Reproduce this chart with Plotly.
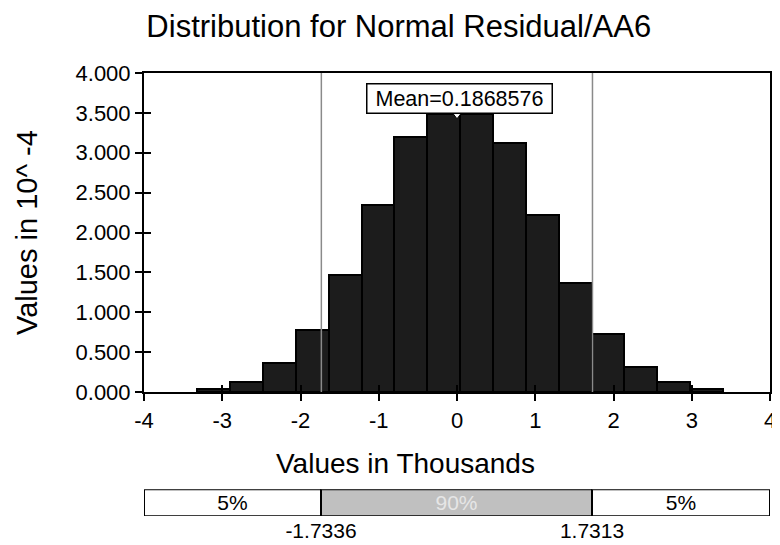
import plotly.graph_objects as go

# ---------------- data ----------------
title_text = "Distribution for Normal Residual/AA6"
x_title = "Values in Thousands"
y_title = "Values in 10^ -4"

bin_centers = [-3.11, -2.69, -2.27, -1.85, -1.43, -1.01, -0.59, -0.17,
               0.25, 0.67, 1.09, 1.51, 1.93, 2.35, 2.77, 3.19]
bin_width = 0.42
bin_values = [0.035, 0.13, 0.36, 0.785, 1.465, 2.345, 3.195, 3.485,
              3.485, 3.12, 2.22, 1.365, 0.735, 0.31, 0.13, 0.035]

x_tickvals = [-4, -3, -2, -1, 0, 1, 2, 3, 4]
x_ticktext = ["-4", "-3", "-2", "-1", "0", "1", "2", "3", "4"]
y_tickvals = [0, 0.5, 1, 1.5, 2, 2.5, 3, 3.5, 4]

mean_value = 0.1868576          # in original units
p_low = -1.7336                 # 5th percentile (thousands)
p_high = 1.7313                 # 95th percentile (thousands)
band_labels = ["5%", "90%", "5%"]
x_min, x_max = -4, 4
y_min, y_max = 0, 4

FONT = "Liberation Sans, Arial, sans-serif"

fig = go.Figure()

# histogram bars
fig.add_trace(go.Bar(
    x=bin_centers, y=bin_values, width=[bin_width] * len(bin_centers),
    marker=dict(color="#1c1c1c", line=dict(color="black", width=2)),
    xaxis="x", yaxis="y", showlegend=False, hoverinfo="skip"))

# percentile lines
for p in (p_low, p_high):
    fig.add_trace(go.Scatter(
        x=[p, p], y=[y_min, y_max], mode="lines",
        line=dict(color="#8a8a8a", width=1.5),
        xaxis="x", yaxis="y", showlegend=False, hoverinfo="skip"))

# top triangles on percentile lines
fig.add_trace(go.Scatter(
    x=[p_low, p_high], y=[y_max + 0.06, y_max + 0.06], mode="markers",
    marker=dict(symbol="triangle-down", size=12, color="#7a7a7a",
                line=dict(color="#333333", width=1)),
    cliponaxis=False, xaxis="x", yaxis="y", showlegend=False, hoverinfo="skip"))

# mean marker
mean_k = mean_value / 1000.0
fig.add_trace(go.Scatter(
    x=[mean_k], y=[3.47], mode="markers",
    marker=dict(symbol="triangle-down", size=7, color="white",
                line=dict(color="black", width=1)),
    cliponaxis=False, xaxis="x", yaxis="y", showlegend=False, hoverinfo="skip"))

# percentile band below the chart
band_bases = [x_min, p_low, p_high]
band_widths = [p_low - x_min, p_high - p_low, x_max - p_high]
fig.add_trace(go.Bar(
    y=[0, 0, 0], x=band_widths, base=band_bases, orientation="h", width=1,
    marker=dict(color=["white", "#c0c0c0", "white"], line=dict(color="black", width=2)),
    text=band_labels, textposition="inside", insidetextanchor="middle",
    constraintext="none",
    textfont=dict(family=FONT, size=21, color=["black", "#e6e6e6", "black"]),
    xaxis="x", yaxis="y3", showlegend=False, hoverinfo="skip"))

# dummy trace for overlay axes (crossing ticks)
fig.add_trace(go.Scatter(x=[], y=[], xaxis="x2", yaxis="y2", showlegend=False))

main_dom = [0.2796, 1.0]
band_dom = [0.0, 0.0604]

annotations = [
    dict(text=f"Mean={mean_value}", x=mean_k, y=3.49, xref="x", yref="y",
         xanchor="center", yanchor="bottom", xshift=2.5, showarrow=False,
         font=dict(family=FONT, size=21.5, color="black"),
         bgcolor="white", bordercolor="black", borderwidth=1.5, borderpad=3,
         width=178, height=22),
    dict(text=x_title, x=0.417, y=0.119, xref="paper", yref="paper",
         xanchor="center", yanchor="middle", showarrow=False,
         font=dict(family=FONT, size=28, color="black")),
]
for p in (p_low, p_high):
    annotations.append(dict(
        text=f"{p:.4f}", x=p, y=-0.536, xref="x", yref="y3 domain",
        xanchor="center", yanchor="middle", showarrow=False,
        font=dict(family=FONT, size=21, color="black"),
        bgcolor="white", width=100))

fig.update_layout(
    width=780, height=545,
    margin=dict(l=136, r=18, t=65, b=37, autoexpand=False),
    paper_bgcolor="white", plot_bgcolor="white",
    font=dict(family=FONT, color="black"),
    title=dict(text=title_text, x=0.501, xanchor="center", xref="container",
               y=1 - 18 / 545, yanchor="middle", yref="container",
               font=dict(family=FONT, size=31, color="black")),
    bargap=0,
    xaxis=dict(range=[x_min, x_max], tickvals=x_tickvals, ticktext=x_ticktext,
               ticks="outside", ticklen=7, tickwidth=2, tickcolor="black",
               showline=True, linewidth=2, linecolor="black", mirror=True,
               showgrid=False, zeroline=False, anchor="y",
               tickfont=dict(family=FONT, size=22, color="black"),
               automargin=False),
    yaxis=dict(range=[y_min, y_max], tickvals=y_tickvals, tickformat=".3f",
               domain=main_dom,
               ticks="outside", ticklen=7, tickwidth=2, tickcolor="black",
               showline=True, linewidth=2, linecolor="black", mirror=True,
               showgrid=False, zeroline=False, anchor="x",
               tickfont=dict(family=FONT, size=22, color="black"),
               title=dict(text=y_title, font=dict(family=FONT, size=29, color="black"),
                          standoff=29),
               automargin=False),
    xaxis2=dict(range=[x_min, x_max], tickvals=x_tickvals, overlaying="x",
                anchor="y2", ticks="inside", ticklen=7, tickwidth=2, tickcolor="black",
                showticklabels=False, showline=False, showgrid=False, zeroline=False),
    yaxis2=dict(range=[y_min, y_max], tickvals=y_tickvals[:-1], overlaying="y",
                anchor="x2", ticks="inside", ticklen=7, tickwidth=2, tickcolor="black",
                showticklabels=False, showline=False, showgrid=False, zeroline=False),
    yaxis3=dict(domain=band_dom, range=[-0.5, 0.5], anchor="x", visible=False,
                fixedrange=True),
    annotations=annotations,
)

fig.write_html("out.html")
